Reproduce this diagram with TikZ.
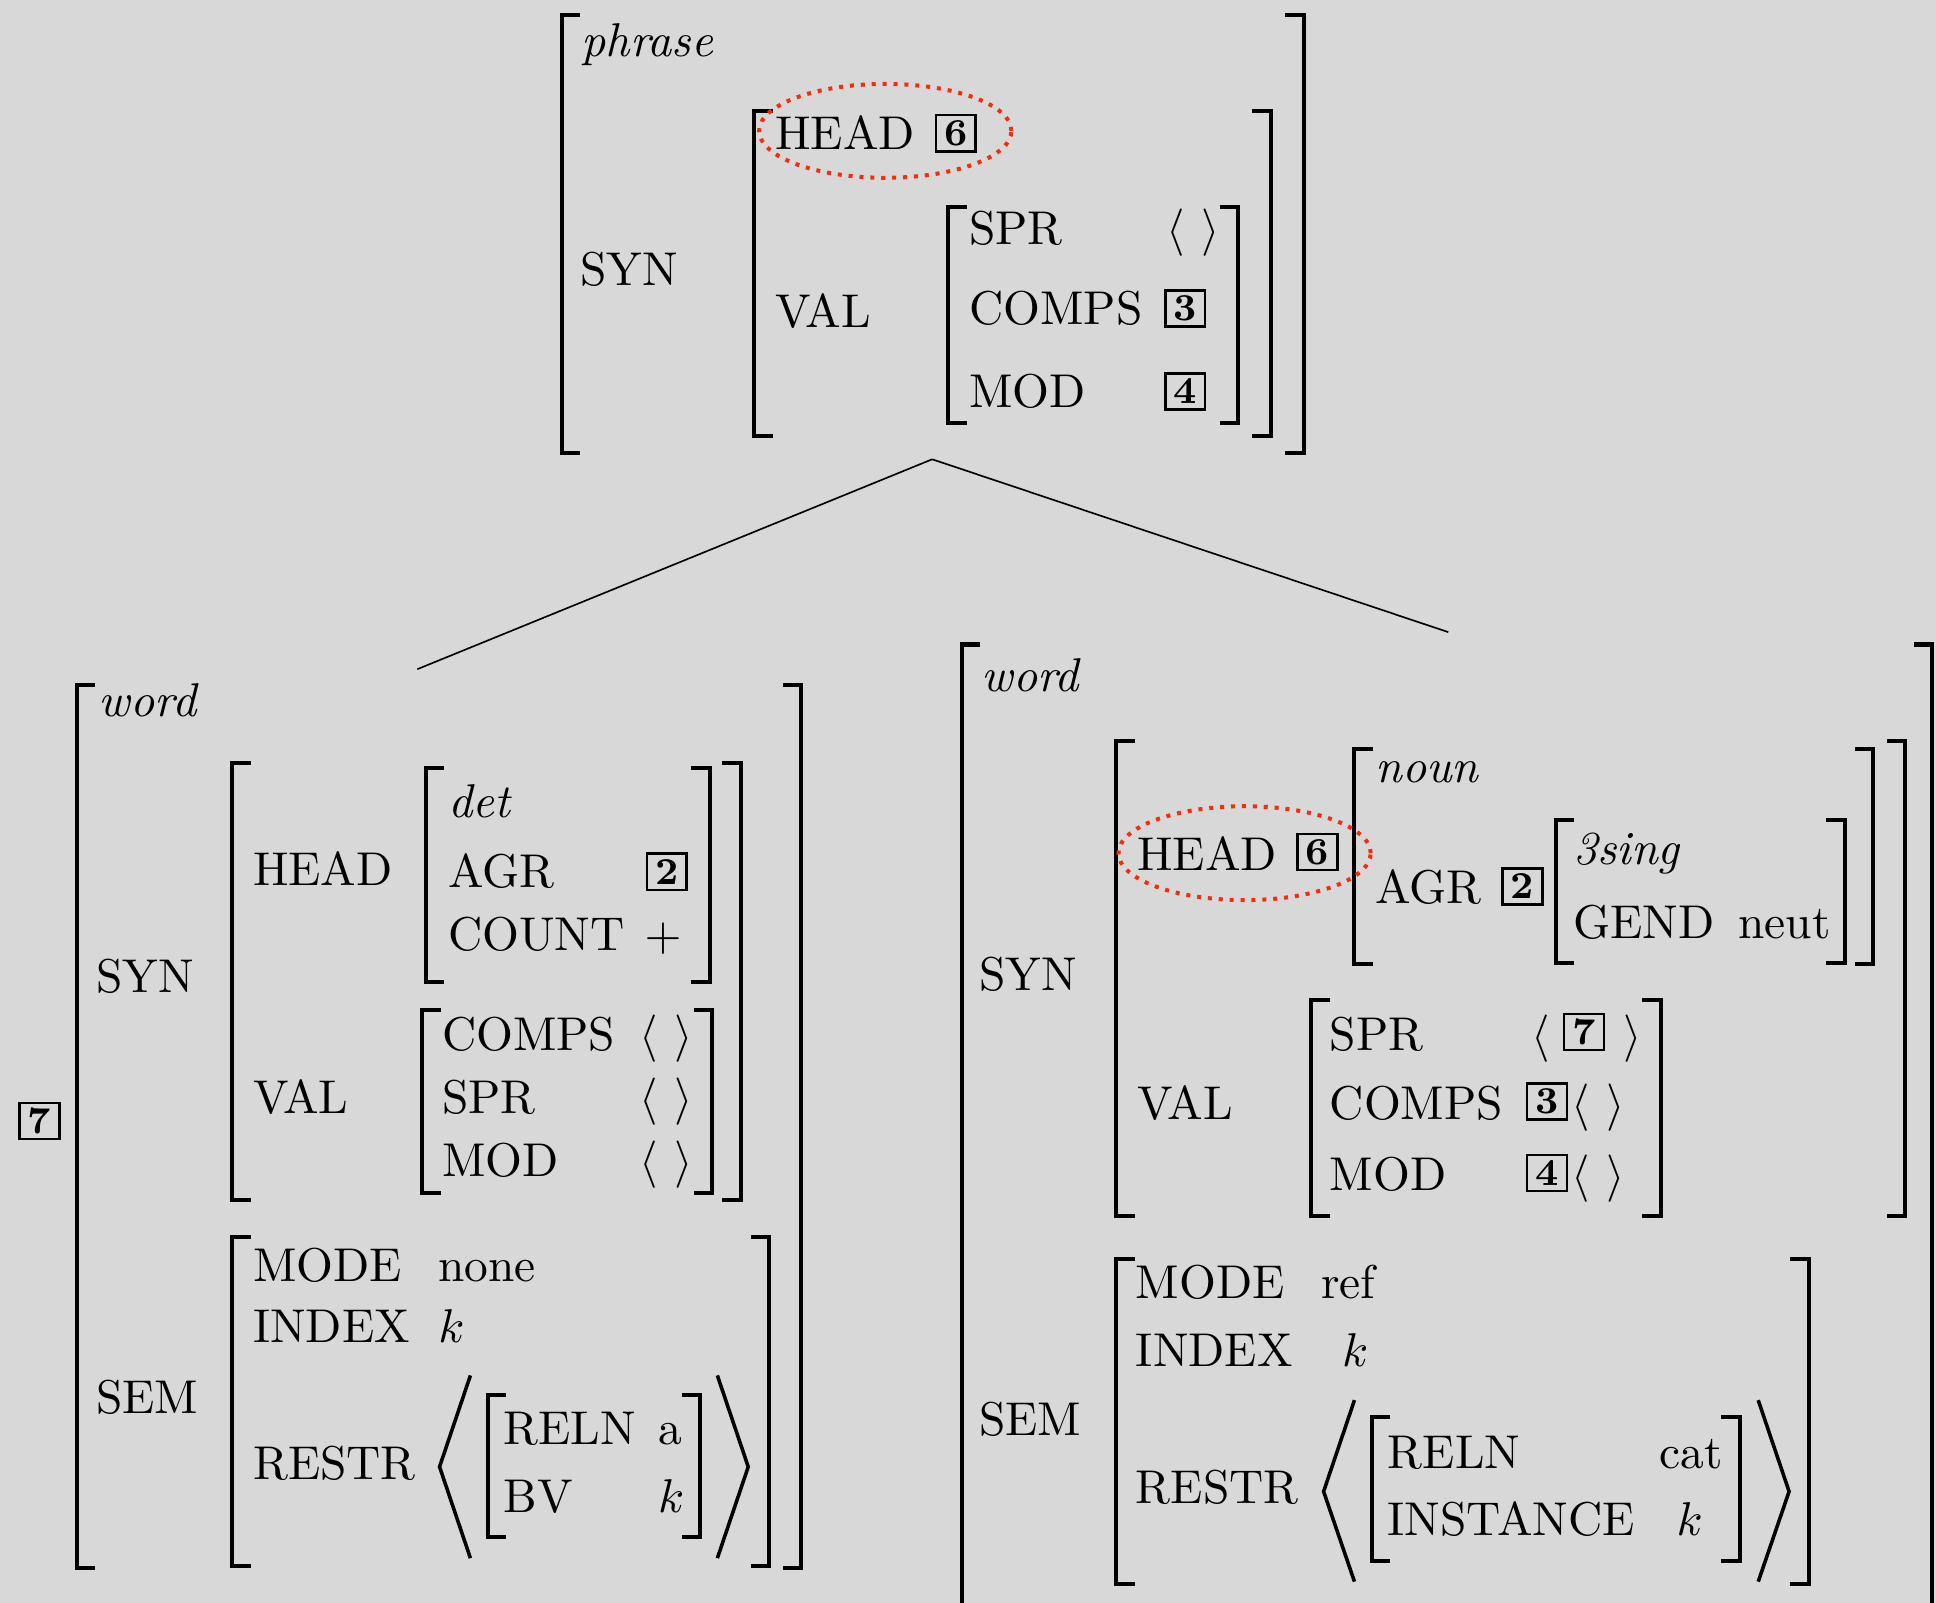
\documentclass[tikz,border=0pt]{standalone}
\usetikzlibrary{calc}
\definecolor{bg}{RGB}{216,216,216}
\definecolor{dotred}{RGB}{248,44,10}
\newcommand{\LB}[3]{\draw[brk] (#1,#2) ++(15,0) -- ++(-15,0) -- (#1,#3) -- ++(15,0);}
\newcommand{\RB}[3]{\draw[brk] (#1,#2) ++(-15,0) -- ++(15,0) -- (#1,#3) -- ++(-15,0);}
\newcommand{\emptylist}{$\langle$\hspace{3.4pt}$\rangle$}
\begin{document}
\begin{tikzpicture}[x=0.2604pt,y=-0.2604pt,
  brk/.style={line width=0.85pt, line join=miter},
  ang/.style={line width=0.75pt, line join=miter},
  tree/.style={line width=0.35pt},
  t/.style={anchor=base west, inner sep=0pt, outer sep=0pt, font=\fontsize{10}{12}\selectfont},
  tag/.style={draw, line width=0.5pt, inner sep=0pt, minimum width=8.4pt, minimum height=7.6pt, font=\fontsize{8}{9}\selectfont\bfseries},
  circ/.style={draw=dotred, line width=0.85pt, dash pattern=on 0.85pt off 1.45pt}]
\fill[bg] (0,0) rectangle (1568,1298);
\useasboundingbox (0,0) rectangle (1568,1298);

% ---------- top phrase ----------
\LB{455}{12}{367}\RB{1056}{12}{367}
\LB{611}{90}{353}\RB{1029}{90}{353}
\LB{768}{168}{343}\RB{1003}{168}{343}
\node[t] (tphrase) at (471,46) {\textit{phrase}};
\node[t] (tsyn) at (470,231) {SYN};
\node[t] (thead) at (628,121) {HEAD};
\node[tag] (tsix) at (774,108) {6};
\node[t] (tval) at (628,265) {VAL};
\node[t] (tspr) at (785,198) {SPR};
\node[t] (tsprv) at (945,198) {\emptylist};
\node[t] (tcomps) at (785,263) {COMPS};
\node[tag] (tthree) at (960,250) {3};
\node[t] (tmod) at (785,330) {MOD};
\node[tag] (tfour) at (960,317) {4};
\draw[circ] (717,106) ellipse [x radius=26.6pt, y radius=9.9pt];

% ---------- tree ----------
\coordinate (mother) at (755,372);
\coordinate (dleft) at (338,542);
\coordinate (dright) at (1173,512);
\draw[tree] (mother) -- (dleft);
\draw[tree] (mother) -- (dright);

% ---------- left word ----------
\node[tag] (lseven) at (32,908) {7};
\LB{62}{555}{1270}\RB{649}{555}{1270}
\LB{188}{618}{972}\RB{600}{618}{972}
\LB{345}{622}{795}\RB{575}{622}{795}
\LB{342}{818}{966}\RB{577}{818}{966}
\LB{188}{1002}{1268}\RB{623}{1002}{1268}
\LB{395}{1130}{1245}\RB{567}{1130}{1245}
\node[t] (lword) at (80,580) {\textit{word}};
\node[t] (lsyn) at (78,804) {SYN};
\node[t] (lhead) at (205,717) {HEAD};
\node[t] (ldet) at (363,662) {\textit{det}};
\node[t] (lagr) at (363,719) {AGR};
\node[tag] (ltwo) at (540,706) {2};
\node[t] (lcount) at (363,770) {COUNT};
\node[t] (lplus) at (522,770) {$+$};
\node[t] (lval) at (205,902) {VAL};
\node[t] (lcomps) at (358,851) {COMPS};
\node[t] (lcompsv) at (518,851) {\emptylist};
\node[t] (lspr) at (358,902) {SPR};
\node[t] (lsprv) at (518,902) {\emptylist};
\node[t] (lmod) at (358,953) {MOD};
\node[t] (lmodv) at (518,953) {\emptylist};
\node[t] (lsem) at (78,1145) {SEM};
\node[t] (lmode) at (205,1038) {MODE};
\node[t] (lnone) at (355,1038) {none};
\node[t] (lindex) at (205,1087) {INDEX};
\node[t] (lk) at (355,1087) {$k$};
\node[t] (lrestr) at (205,1198) {RESTR};
\draw[ang] (381,1114) -- (356,1188) -- (381,1262);
\draw[ang] (581,1114) -- (606,1188) -- (581,1262);
\node[t] (lreln) at (408,1170) {RELN};
\node[t] (la) at (533,1170) {a};
\node[t] (lbv) at (408,1225) {BV};
\node[t] (lbvk) at (533,1225) {$k$};

% ---------- right word ----------
\LB{779}{522}{1330}\RB{1565}{522}{1330}
\LB{904}{600}{985}\RB{1543}{600}{985}
\LB{1097}{607}{781}\RB{1517}{607}{781}
\LB{1260}{664}{780}\RB{1494}{664}{780}
\LB{1062}{810}{985}\RB{1345}{810}{985}
\LB{904}{1020}{1283}\RB{1465}{1020}{1283}
\LB{1111}{1148}{1264}\RB{1409}{1148}{1264}
\node[t] (rword) at (795,560) {\textit{word}};
\node[t] (rsyn) at (793,802) {SYN};
\node[t] (rhead) at (921,705) {HEAD};
\node[tag] (rsix) at (1067,690) {6};
\draw[circ] (1008,691) ellipse [x radius=26.6pt, y radius=9.9pt];
\node[t] (rnoun) at (1114,634) {\textit{noun}};
\node[t] (ragr) at (1114,732) {AGR};
\node[tag] (rtwo) at (1233,718) {2};
\node[t] (rsing) at (1274,700) {\textit{3sing}};
\node[t] (rgend) at (1274,760) {GEND};
\node[t] (rneut) at (1408,760) {neut};
\node[t] (rval) at (921,907) {VAL};
\node[t] (rspr) at (1077,851) {SPR};
\node[t] (rsprl) at (1240,851) {$\langle$};
\node[tag] (rseven) at (1283,836) {7};
\node[t] (rsprr) at (1315,851) {$\rangle$};
\node[t] (rcomps) at (1077,907) {COMPS};
\node[tag] (rthree) at (1253,892) {3};
\node[t] (rcompsv) at (1273,907) {\emptylist};
\node[t] (rmod) at (1077,964) {MOD};
\node[tag] (rfour) at (1253,950) {4};
\node[t] (rmodv) at (1273,964) {\emptylist};
\node[t] (rsem) at (793,1163) {SEM};
\node[t] (rmode) at (920,1052) {MODE};
\node[t] (rref) at (1070,1052) {ref};
\node[t] (rindex) at (920,1107) {INDEX};
\node[t] (rk) at (1087,1107) {$k$};
\node[t] (rrestr) at (920,1218) {RESTR};
\draw[ang] (1097,1134) -- (1072,1208) -- (1097,1281);
\draw[ang] (1424,1134) -- (1449,1208) -- (1424,1281);
\node[t] (rreln) at (1124,1189) {RELN};
\node[t] (rcat) at (1344,1189) {cat};
\node[t] (rinst) at (1124,1244) {INSTANCE};
\node[t] (rik) at (1358,1244) {$k$};
\end{tikzpicture}
\end{document}
